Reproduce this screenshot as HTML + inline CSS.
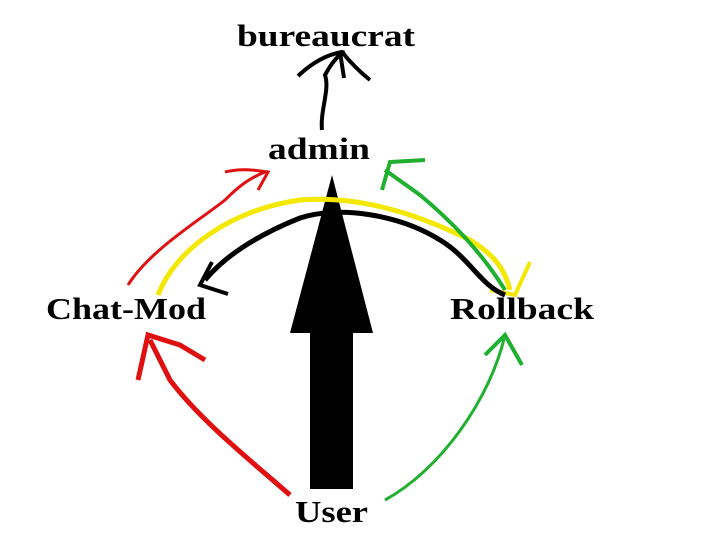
<!DOCTYPE html>
<html><head><style>
html,body{margin:0;padding:0;background:#fff;width:719px;height:557px;overflow:hidden}
svg{display:block}
text{font-family:"Liberation Serif",serif;font-weight:bold;font-size:31px;fill:#000}
</style></head><body>
<svg width="719" height="557" viewBox="0 0 719 557">
<rect x="310" y="332" width="43" height="157" fill="#000"/>
<polygon points="290,333 373,333 332,175" fill="#000"/>
<path d="M322,130 C320,110 330,90 325,75 C332,62 338,55 345,52" stroke="#000" stroke-width="4" fill="none"/>
<path d="M298,76 C315,60 330,54 342,52 C350,62 360,72 370,80 M340,52 L344,78" stroke="#000" stroke-width="4" fill="none"/>
<path d="M158,295 C175,250 230,210 300,200 C360,195 420,215 470,240 C495,255 505,270 510,290" stroke="#f5e800" stroke-width="5" fill="none"/>
<path d="M490,290 L515,295 L530,262" stroke="#f5e800" stroke-width="4" fill="none"/>
<path d="M205,280 C230,250 270,230 300,218 C340,205 400,215 440,240 C470,258 480,285 505,295" stroke="#000" stroke-width="5" fill="none"/>
<path d="M212,262 L200,285 L228,294" stroke="#000" stroke-width="4" fill="none"/>
<path d="M128,285 C150,250 200,220 225,200 C240,185 250,178 265,172" stroke="#e01010" stroke-width="3" fill="none"/>
<path d="M225,172 C240,168 255,170 268,172 L258,190" stroke="#e01010" stroke-width="3" fill="none"/>
<path d="M505,290 C480,250 450,220 420,195 L385,170" stroke="#20b030" stroke-width="4" fill="none"/>
<path d="M425,160 L390,162 L382,190" stroke="#20b030" stroke-width="4" fill="none"/>
<path d="M290,495 C250,460 200,420 170,380 L150,340" stroke="#e01010" stroke-width="5" fill="none"/>
<path d="M138,380 L148,335 L180,345 L205,360" stroke="#e01010" stroke-width="5" fill="none"/>
<path d="M385,500 C440,470 490,400 505,335" stroke="#20b030" stroke-width="3" fill="none"/>
<path d="M485,355 L505,335 L522,365" stroke="#20b030" stroke-width="4" fill="none"/>
<text x="237" y="46" textLength="178" lengthAdjust="spacingAndGlyphs">bureaucrat</text>
<text x="268" y="159" textLength="102" lengthAdjust="spacingAndGlyphs">admin</text>
<text x="46" y="319" textLength="160" lengthAdjust="spacingAndGlyphs">Chat-Mod</text>
<text x="450" y="319" textLength="144" lengthAdjust="spacingAndGlyphs">Rollback</text>
<text x="295" y="522" textLength="73" lengthAdjust="spacingAndGlyphs">User</text>
</svg>
</body></html>
